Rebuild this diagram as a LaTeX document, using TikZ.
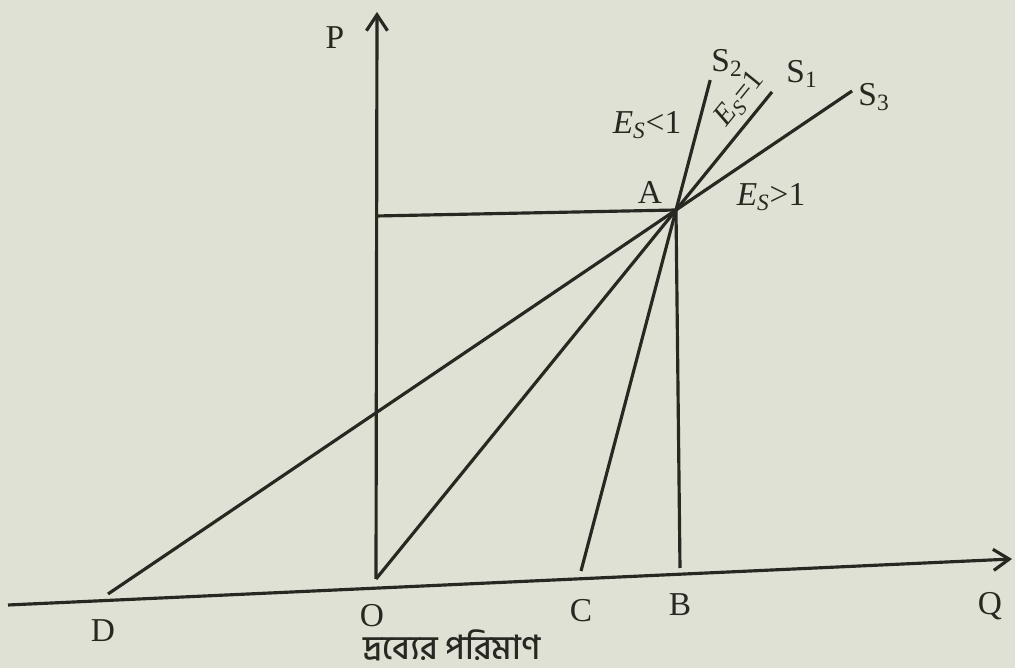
\documentclass[tikz,border=0pt]{standalone}
\usepackage{fontspec}
\setmainfont{Liberation Serif}
\newfontfamily\bnfont[Script=Bengali]{Hind Siliguri Medium}
\usetikzlibrary{calc,arrows.meta}
\definecolor{paper}{RGB}{222,225,212}
\definecolor{ink}{RGB}{40,40,34}
\newcommand{\Es}{\textit{E}\textsubscript{\textit{S}}}
\begin{document}
\begin{tikzpicture}[x=0.02cm,y=-0.02cm,
  line/.style={draw=ink,line width=1.8pt},
  lbl/.style={text=ink,inner sep=0pt,font=\fontsize{19}{22}\selectfont}]
\fill[paper] (0,0) rectangle (1015,668);
\useasboundingbox (0,0) rectangle (1015,668);
% points
\coordinate (O) at (376,579);
\coordinate (D) at (108,594);
\coordinate (C) at (581,571);
\coordinate (B) at (680,568);
\coordinate (Qs) at (8,605);
\coordinate (Qe) at (1012,559);
\coordinate (Pt) at (377,12);
\coordinate (A) at (676,210);
\coordinate (H) at (376,216);
\coordinate (S2e) at ($(C)!1.36!(A)$);
\coordinate (S1e) at ($(O)!1.32!(A)$);
\coordinate (S3e) at ($(D)!1.31!(A)$);
% axes
\draw[line,-{Straight Barb[length=9pt,width=12pt]}] (Qs) -- (Qe);
\draw[line,-{Straight Barb[length=9pt,width=12pt]}] (O) -- (Pt);
% guide lines
\draw[line] (H) -- (A) -- (B);
% supply curves
\draw[line] (C) -- (S2e);
\draw[line] (O) -- (S1e);
\draw[line] (D) -- (S3e);
% labels
\node[lbl] (lP) at (335,38) {P};
\node[lbl] (lQ) at (990,606) {Q};
\node[lbl] (lD) at (103,631) {D};
\node[lbl] (lO) at (372,616) {O};
\node[lbl] (lC) at (581,611) {C};
\node[lbl] (lB) at (680,605) {B};
\node[lbl] (lA) at (650,192) {A};
\node[lbl] (lS2) at (727,63) {S\textsubscript{2}};
\node[lbl] (lS1) at (802,74) {S\textsubscript{1}};
\node[lbl] (lS3) at (874,97) {S\textsubscript{3}};
\node[lbl] (e1) at (647,125) {\Es<1};
\node[lbl,rotate=51,font=\fontsize{17}{20}\selectfont] (e2) at (740,99) {\Es=1};
\node[lbl] (e3) at (771,197) {\Es>1};
\node[text=ink,inner sep=0pt,font=\bnfont\fontsize{19}{21}\selectfont] (xl) at (452,645) {দ্রব্যের পরিমাণ};
\end{tikzpicture}
\end{document}
